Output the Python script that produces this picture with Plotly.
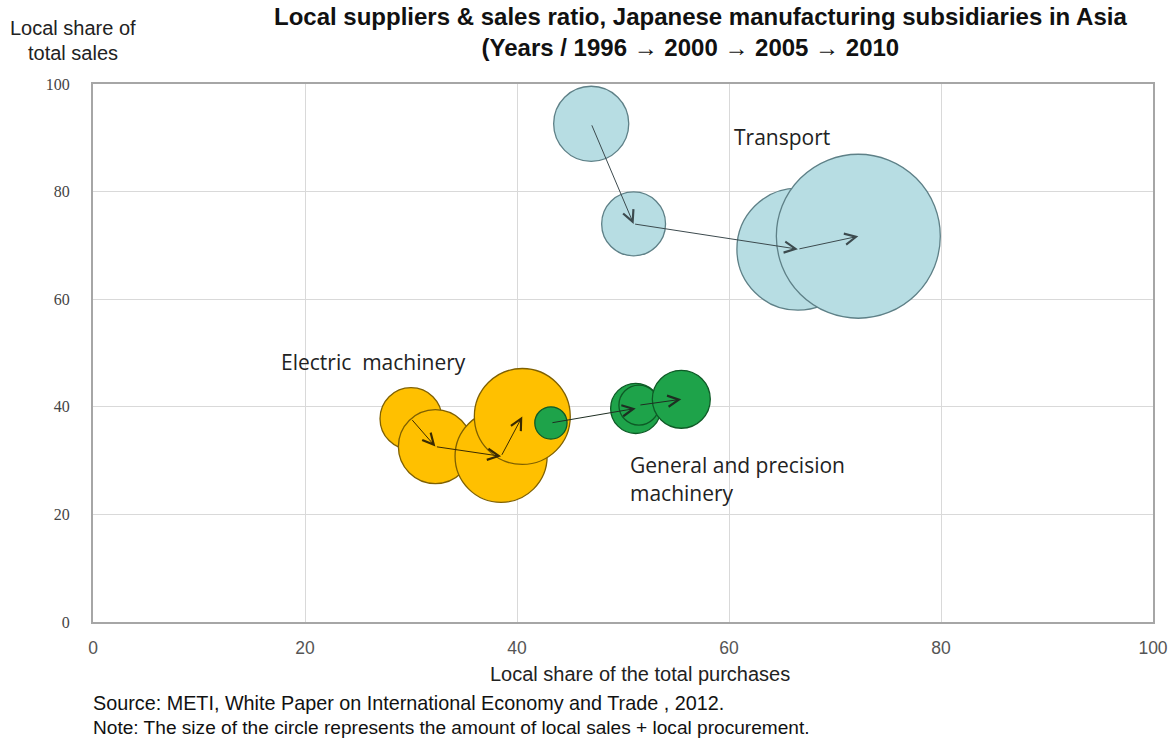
import plotly.graph_objects as go

# ---- data ----
years = [1996, 2000, 2005, 2010]

transport_x = [47.0, 51.0, 66.5, 72.2]
transport_y = [92.6, 74.0, 69.3, 71.7]
transport_amt = [14.1, 10.2, 37.2, 67.2]

electric_x = [30.0, 32.3, 38.5, 40.5]
electric_y = [37.8, 32.6, 30.8, 38.2]
electric_amt = [9.6, 13.7, 21.2, 23.0]

general_x = [43.2, 51.2, 51.5, 55.5]
general_y = [37.0, 39.7, 40.3, 41.4]
general_amt = [2.6, 6.3, 4.0, 8.4]

x_ticks = [0, 20, 40, 60, 80, 100]
y_ticks = [0, 20, 40, 60, 80, 100]

# ---- layout geometry ----
W, H = 1172, 740
ML, MR, MT, MB = 93, 19, 84, 118
PW, PH = W - ML - MR, H - MT - MB


def px_x(p):
    return (p - ML) / PW


def px_y(p):
    return (H - MB - p) / PH


SIZEREF = 0.005
fig = go.Figure()

series = [
    ("Transport", transport_x, transport_y, transport_amt, "#B7DDE3", "#5E8087"),
    ("Electric machinery", electric_x, electric_y, electric_amt, "#FFC000", "#7F6000"),
    ("General and precision machinery", general_x, general_y, general_amt, "#1EA34A", "#0E5A26"),
]

for name, xs, ys, amts, fill, edge in series:
    for i in range(len(xs)):
        fig.add_trace(go.Scatter(
            x=[xs[i]], y=[ys[i]], mode="markers",
            name=f"{name} {years[i]}",
            marker=dict(size=[amts[i]], sizemode="area", sizeref=SIZEREF,
                        color=fill, opacity=1,
                        line=dict(color=edge, width=1.3)),
            hovertemplate=f"{name} {years[i]}<br>x=%{{x}}<br>y=%{{y}}<extra></extra>",
            showlegend=False,
        ))

annotations = []
arrow_cols = {"Transport": "#3C4A4E", "Electric machinery": "#3A2A00",
              "General and precision machinery": "#1E2E22"}
for name, xs, ys, amts, fill, edge in series:
    for i in range(len(xs) - 1):
        annotations.append(dict(
            x=xs[i + 1], y=ys[i + 1], ax=xs[i], ay=ys[i],
            xref="x", yref="y", axref="x", ayref="y",
            showarrow=True, arrowhead=5, arrowsize=2.2, arrowwidth=1,
            arrowcolor=arrow_cols[name], text="",
        ))

label_font = dict(family="Open Sans, Noto Sans, sans-serif", size=21, color="#222222")
annotations += [
    dict(text="Transport", x=60.3, y=90.1, xref="x", yref="y",
         xanchor="left", yanchor="middle", showarrow=False, font=label_font),
    dict(text="Electric&nbsp;&nbsp;machinery", x=17.5, y=48.3, xref="x", yref="y",
         xanchor="left", yanchor="middle", showarrow=False, font=label_font),
    dict(text="General and precision", x=50.5, y=29.2, xref="x", yref="y",
         xanchor="left", yanchor="middle", showarrow=False, font=label_font),
    dict(text="machinery", x=50.5, y=24.0, xref="x", yref="y",
         xanchor="left", yanchor="middle", showarrow=False, font=label_font),
]

arial = "Liberation Sans, Arial, sans-serif"
annotations += [
    dict(text="<b>Local suppliers &amp; sales ratio, Japanese manufacturing subsidiaries in Asia</b><br>"
              "<b>(Years / 1996 → 2000 → 2005 → 2010&nbsp;&nbsp;&nbsp;</b>",
         x=px_x(700), y=px_y(32), xref="paper", yref="paper", xanchor="center", yanchor="middle",
         align="center", showarrow=False, font=dict(family=arial, size=24, color="#111111")),
    dict(text="Local share of", x=px_x(73), y=px_y(28), xref="paper", yref="paper",
         xanchor="center", yanchor="middle", showarrow=False,
         font=dict(family=arial, size=20, color="#222222")),
    dict(text="total sales", x=px_x(73), y=px_y(53), xref="paper", yref="paper",
         xanchor="center", yanchor="middle", showarrow=False,
         font=dict(family=arial, size=20, color="#222222")),
    dict(text="Local share of the total purchases", x=px_x(640), y=px_y(674),
         xref="paper", yref="paper", xanchor="center", yanchor="middle", showarrow=False,
         font=dict(family=arial, size=20, color="#222222")),
    dict(text="Source: METI, White Paper on International Economy and Trade , 2012.",
         x=px_x(91), y=px_y(703), xref="paper", yref="paper", xanchor="left", yanchor="middle",
         showarrow=False, font=dict(family=arial, size=19.8, color="#111111")),
    dict(text="Note: The size of the circle represents the amount of local sales + local procurement.",
         x=px_x(91), y=px_y(727), xref="paper", yref="paper", xanchor="left", yanchor="middle",
         showarrow=False, font=dict(family=arial, size=19.1, color="#111111")),
]

fig.update_layout(
    width=W, height=H,
    margin=dict(l=ML, r=MR, t=MT, b=MB, pad=0, autoexpand=False),
    paper_bgcolor="white", plot_bgcolor="white",
    annotations=annotations,
    showlegend=False,
)
fig.update_xaxes(
    range=[0, 100], tickvals=x_ticks, ticktext=[str(v) for v in x_ticks],
    showgrid=True, gridcolor="#D9D9D9", gridwidth=1, zeroline=False,
    showline=True, linecolor="#A6A6A6", linewidth=2, mirror=True,
    ticks="", ticklabelstandoff=9, automargin=False,
    tickfont=dict(family=arial, size=17.5, color="#555555"),
    fixedrange=True,
)
fig.update_yaxes(
    range=[0, 100], tickvals=y_ticks, ticktext=[str(v) for v in y_ticks],
    showgrid=True, gridcolor="#D9D9D9", gridwidth=1, zeroline=False,
    showline=True, linecolor="#A6A6A6", linewidth=2, mirror=True,
    ticks="", ticklabelstandoff=18, automargin=False,
    tickfont=dict(family="Liberation Serif, DejaVu Serif, serif", size=16, color="#444444"),
    fixedrange=True,
)

fig.write_html("out.html")
